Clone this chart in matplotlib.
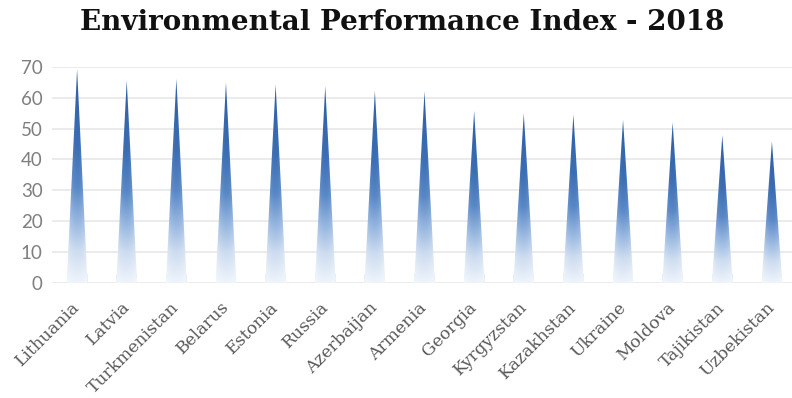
import matplotlib
matplotlib.use("Agg")
import matplotlib.pyplot as plt
import numpy as np
from matplotlib.colors import LinearSegmentedColormap
from matplotlib.patches import Polygon, Rectangle

# -----------------------------------------------------------------------------
# data
# -----------------------------------------------------------------------------

countries = ["Lithuania", "Latvia", "Turkmenistan", "Belarus", "Estonia",
             "Russia", "Azerbaijan", "Armenia", "Georgia", "Kyrgyzstan",
             "Kazakhstan", "Ukraine", "Moldova", "Tajikistan", "Uzbekistan"]
epi = [69.3, 65.6, 66.1, 65.0, 64.3, 63.8, 62.3, 62.1, 55.7, 54.9,
       54.6, 52.9, 52.0, 47.9, 45.9]
yticks = [0, 10, 20, 30, 40, 50, 60, 70]

# -----------------------------------------------------------------------------
# cone shading: vertical fade, darker along the centre line
# -----------------------------------------------------------------------------

cone = LinearSegmentedColormap.from_list(
    "cone", [(0.0, "#eef4fb"), (0.15, "#cddcf0"), (0.3, "#92b3de"),
             (0.45, "#5887c6"), (0.65, "#3b6db3"), (1.0, "#2f5fa5")])
ny, nx = 256, 64
v = np.linspace(0, 1, ny)[:, None]
u = np.linspace(-1, 1, nx)[None, :]
grad = cone(np.repeat(v, nx, axis=1))
edge = 0.35 * np.abs(u) ** 2
grad[..., :3] = grad[..., :3] * (1 - edge[..., None]) + edge[..., None]

# -----------------------------------------------------------------------------
# plot
# -----------------------------------------------------------------------------

fig = plt.figure(figsize=(7.92, 3.98), dpi=100)
ax = fig.add_axes([0.066, 0.289, 0.94, 0.543])

width = 0.42
for i, h in enumerate(epi):
    left, right = i - width / 2, i + width / 2
    ax.add_patch(Rectangle((left, 0), width, 3, facecolor="#e4ecf7",
                           edgecolor="none", zorder=2))
    tri = Polygon([(left, 0), (right, 0), (i, h)], closed=True,
                  facecolor="none", edgecolor="none")
    ax.add_patch(tri)
    im = ax.imshow(grad, extent=[left, right, 0, h], origin="lower",
                   aspect="auto", zorder=3, interpolation="bilinear")
    im.set_clip_path(tri)

ax.set_xlim(-0.5, len(countries) - 0.5)
ax.set_ylim(0, 70)
ax.set_yticks(yticks)
ax.set_xticks(range(len(countries)))
ax.set_xticklabels(countries, rotation=45, ha="right", va="center",
                   rotation_mode="anchor", family="DejaVu Serif",
                   fontsize=12.3, color="#595959")
for t in ax.get_yticklabels():
    t.set_family("Lato")
ax.tick_params(axis="y", length=0, pad=7, labelsize=13.5, labelcolor="#7f7f7f")
ax.tick_params(axis="x", length=0, pad=16)
ax.grid(axis="y", color="#e8e8e8", linewidth=1.2, zorder=0)
ax.set_axisbelow(True)
for s in ax.spines.values():
    s.set_visible(False)

fig.text(0.508, 0.944, "Environmental Performance Index - 2018",
         ha="center", va="center", fontsize=20, fontweight="bold",
         family="DejaVu Serif", color="#111111")

fig.savefig("out.png", dpi=100)
